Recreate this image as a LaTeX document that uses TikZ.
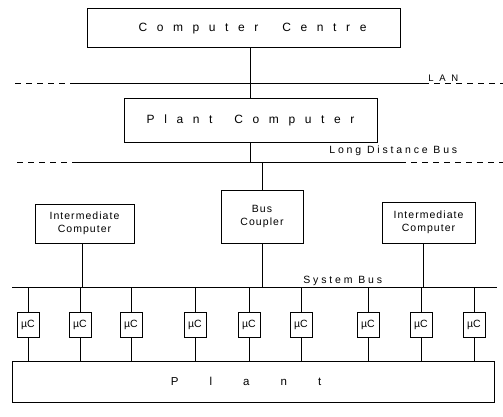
\documentclass[tikz,border=0pt]{standalone}
\usepackage{fontspec}
\setmainfont{Liberation Sans}
\begin{document}
\begin{tikzpicture}[x=1pt,y=-1pt,line width=0.8pt,
  box/.style={draw,rectangle,inner sep=0pt,align=center},
  bigtxt/.style={font=\fontsize{12}{14}\selectfont\addfontfeature{LetterSpace=80}},
  midtxt/.style={font=\fontsize{10.5}{13.5}\selectfont\addfontfeature{LetterSpace=10}},
  lbl/.style={inner sep=0pt,anchor=base west,font=\fontsize{10.5}{12}\selectfont\addfontfeature{LetterSpace=27}},
  mc/.style={box,minimum width=22pt,minimum height=25pt,font=\fontsize{10.5}{12}\selectfont},
  dsh/.style={dash pattern=on 6pt off 5pt}]
\useasboundingbox (0,0) rectangle (503,416);

% boxes
\node[box,bigtxt,minimum width=313pt,minimum height=39pt] (cc) at (243.5,27.5) {\raisebox{-4pt}[0pt][0pt]{\hspace*{18pt}Computer\hspace{24pt}Centre}};
\node[box,bigtxt,minimum width=253pt,minimum height=44pt] (pc) at (250.5,120) {Plant\hspace{22pt}Computer};
\node[box,midtxt,minimum width=99pt,minimum height=39pt] (ic1) at (84.5,223.5) {Intermediate\\Computer};
\node[box,midtxt,minimum width=82pt,minimum height=53pt] (bc) at (262,216.5) {Bus\\Coupler};
\node[box,midtxt,minimum width=93pt,minimum height=41pt] (ic2) at (428.5,222.5) {Intermediate\\Computer};
\node[box,minimum width=482pt,minimum height=41pt,font=\fontsize{11.5}{13}\selectfont\addfontfeature{LetterSpace=270}] (pl) at (253,381.5) {\hspace*{-14pt}Plant};

% micro controllers
\foreach \i/\x in {1/28,2/80,3/131,4/195,5/249,6/301,7/368,8/421,9/474}
  \node[mc] (mc\i) at (\x,324.5) {µC};

% buses
\coordinate (lanL) at (15,83);
\coordinate (lanA) at (75,83);
\coordinate (lanB) at (423,83);
\coordinate (lanR) at (503,83);
\draw[dsh] (lanL) -- (lanA);
\draw (lanA) -- (lanB);
\draw[dsh] (lanB) -- (lanR);
\node[inner sep=0pt,anchor=base west,font=\fontsize{9.5}{11}\selectfont\addfontfeature{LetterSpace=60}] (lan) at (428,81) {LAN};

\coordinate (ldbL) at (17,162);
\coordinate (ldbA) at (75,162);
\coordinate (ldbB) at (400,162);
\coordinate (ldbR) at (503,162);
\draw[dsh] (ldbL) -- (ldbA);
\draw (ldbA) -- (ldbB);
\draw[dsh] (ldbB) -- (ldbR);
\node[lbl] (ldb) at (329,153) {Long Distance Bus};

\coordinate (sysL) at (12,287);
\coordinate (sysR) at (497,287);
\draw (sysL) -- (sysR);
\node[lbl] (sys) at (303,283) {System Bus};

% connectors
\draw (pc.north |- cc.south) -- (pc.north);
\draw (pc.south) -- (pc.south |- ldbA);
\draw (bc.north |- ldbA) -- (bc.north);
\draw (bc.south) -- (bc.south |- sysL);
\draw ([xshift=-2.5pt]ic1.south) -- ([xshift=-2.5pt]ic1.south |- sysL);
\draw ([xshift=-5.5pt]ic2.south) -- ([xshift=-5.5pt]ic2.south |- sysL);
\foreach \i in {1,...,9}{
  \draw (mc\i.north |- sysL) -- (mc\i.north);
  \draw (mc\i.south) -- (mc\i.south |- pl.north);
}
\end{tikzpicture}
\end{document}
